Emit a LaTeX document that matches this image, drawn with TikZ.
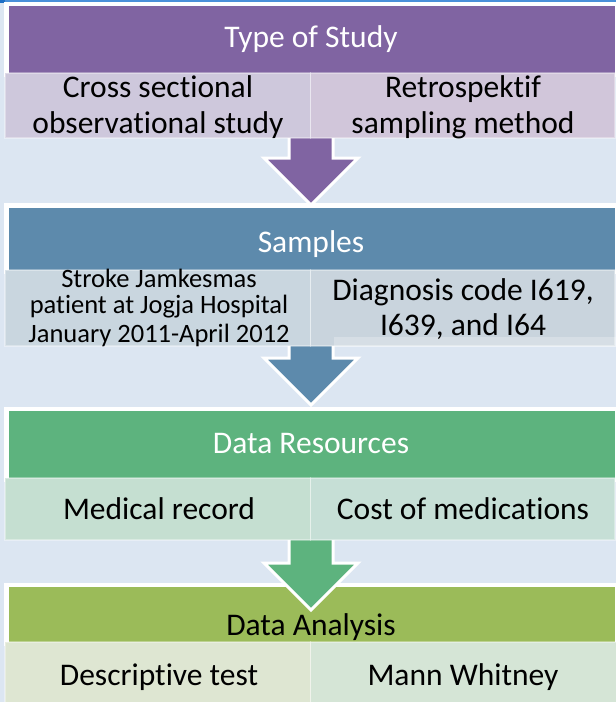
\documentclass[tikz,border=0pt]{standalone}
\usepackage{fontspec}
\setmainfont{Carlito}[Ligatures={NoCommon}]
\begin{document}
\begin{tikzpicture}[x=1pt,y=-1pt]
\definecolor{bg}{HTML}{DCE6F2}
\definecolor{topline}{HTML}{4A90D9}
\definecolor{topcorner}{HTML}{1F6FC5}
\definecolor{purp}{HTML}{8064A2}
\definecolor{steel}{HTML}{5D8AAC}
\definecolor{green}{HTML}{5DB37E}
\definecolor{olive}{HTML}{9BBB59}
\definecolor{purpL}{HTML}{CEC8DC}
\definecolor{purpR}{HTML}{D1C6DA}
\definecolor{steelL}{HTML}{C9D6DF}
\definecolor{steelR}{HTML}{C9D4DD}
\definecolor{greenL}{HTML}{C5DFD1}
\definecolor{greenR}{HTML}{C6DFD6}
\definecolor{oliveL}{HTML}{DEE6D2}
\definecolor{oliveR}{HTML}{D5E5D6}
\tikzset{
  hdr/.style={draw=white, line width=4.5pt},
  cell/.style={draw=white, draw opacity=0.35, line width=1.5pt},
  flow/.style={draw=white, line width=3pt, line join=miter},
  htext/.style={font=\fontsize{31.5}{36}\selectfont, text=white, anchor=base, inner sep=0pt},
  ctext/.style={font=\fontsize{31.5}{36}\selectfont, text=black, anchor=base, inner sep=0pt},
  stext/.style={font=\fontsize{26.5}{28}\selectfont, text=black, anchor=base, inner sep=0pt},
}
% background
\fill[bg] (0,0) rectangle (616,702);
\useasboundingbox (0,0) rectangle (616,702);
\fill[topline] (0,0) rectangle (616,1.5);
\fill[topcorner] (0,0) rectangle (5,3);

% headers
\path[hdr, fill=purp]  (6.5,4)     rectangle (617,75);
\path[hdr, fill=steel] (6.5,205.5) rectangle (617,272);
\path[hdr, fill=green] (6.5,409)   rectangle (617,480);
\path[hdr, fill=olive] (6.5,585)   rectangle (617,644);

% block arrows
\path[flow, fill=purp]  (289,134) -- (289,158) -- (264,158) -- (311,205) -- (358,158) -- (333,158) -- (333,134);
\path[flow, fill=steel] (289,340) -- (289,358) -- (264,358) -- (311,405) -- (358,358) -- (333,358) -- (333,340);
\path[flow, fill=green] (289,536) -- (289,563) -- (264,563) -- (311,610) -- (358,563) -- (333,563) -- (333,536);

% sub rows
\path[cell, fill=purpL]  (5,73)    rectangle (310.5,138);
\path[cell, fill=purpR]  (310.5,73) rectangle (615,138);
\path[cell, fill=steelL] (5,270)    rectangle (310.5,346);
\path[cell, fill=steelR] (310.5,270) rectangle (615,346);
\fill[white, opacity=0.25] (334,337) rectangle (616,347);
\path[cell, fill=greenL] (5,478)    rectangle (310.5,540);
\path[cell, fill=greenR] (310.5,478) rectangle (615,540);
\path[cell, fill=oliveL] (5,642)    rectangle (310.5,704);
\path[cell, fill=oliveR] (310.5,642) rectangle (617,704);

% header texts
\node[htext] (t1) at (311,47) {Type of Study};
\node[htext] (t2) at (311,252) {Samples};
\node[htext] (t3) at (311,453) {Data Resources};
\node[htext, text=black] (t4) at (311,635) {Data Analysis};

% cell texts
\node[ctext] (c1a) at (158,97)  {Cross sectional};
\node[ctext] (c1b) at (158,133) {observational study};
\node[ctext] (c2a) at (463,97)  {Retrospektif};
\node[ctext] (c2b) at (463,133) {sampling method};

\node[stext] (c3a) at (159,287) {Stroke Jamkesmas};
\node[stext] (c3b) at (159,313) {patient at Jogja Hospital};
\node[stext] (c3c) at (159,342) {January 2011-April 2012};
\node[ctext] (c4a) at (463,300) {Diagnosis code I619,};
\node[ctext] (c4b) at (463,335) {I639, and I64};

\node[ctext] (c5) at (159,519) {Medical record};
\node[ctext] (c6) at (463,519) {Cost of medications};

\node[ctext] (c7) at (159,685) {Descriptive test};
\node[ctext] (c8) at (463,685) {Mann Whitney};
\end{tikzpicture}
\end{document}
